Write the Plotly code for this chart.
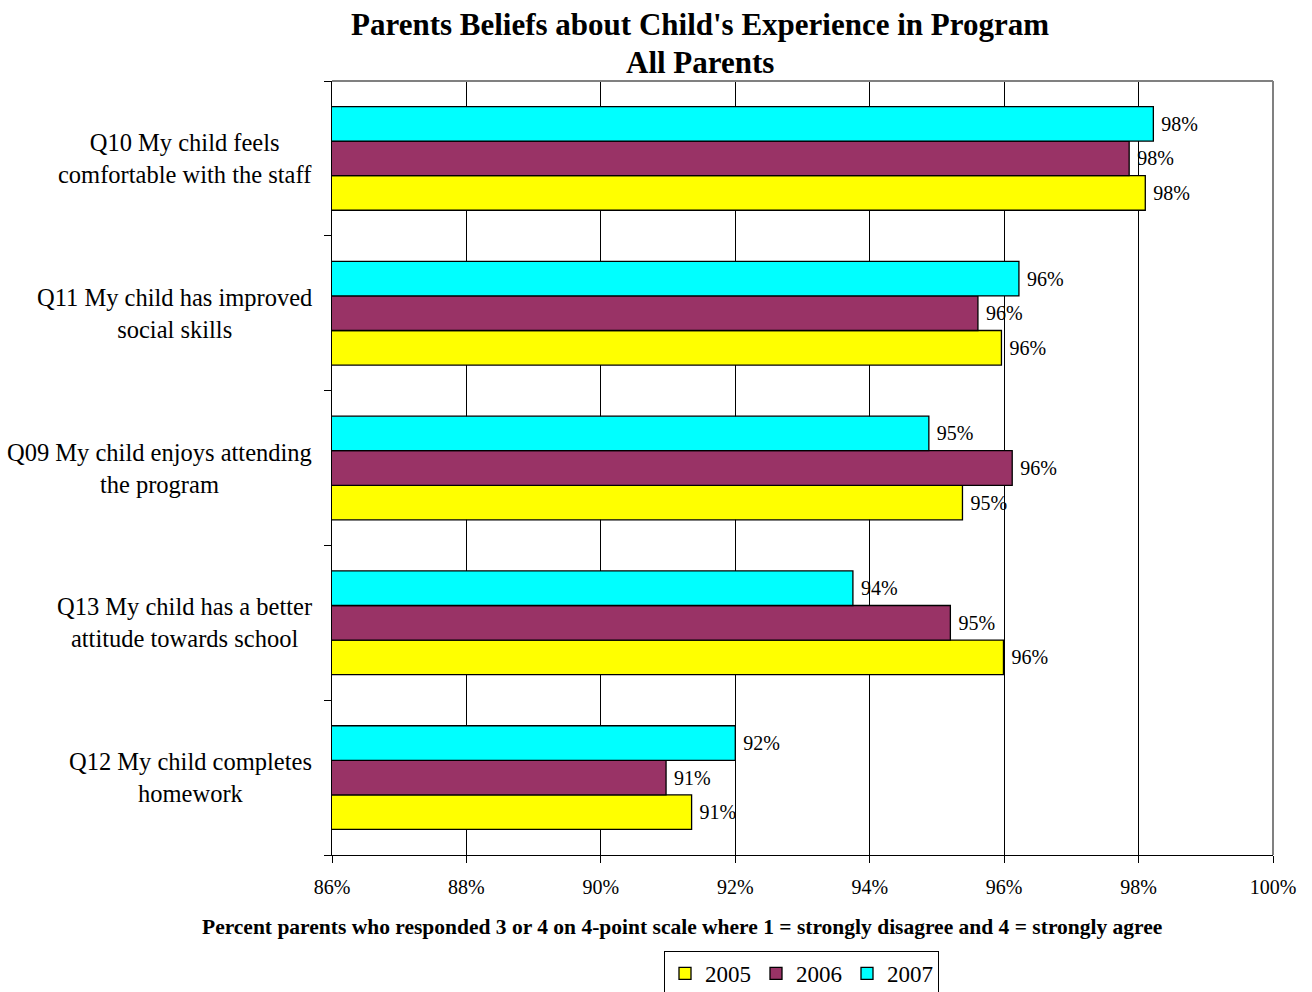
import plotly.graph_objects as go

# Survey items, listed bottom-to-top as they stack on the category axis
questions = ["Q12", "Q13", "Q09", "Q11", "Q10"]
question_text = [
    "Q12 My child completes<br>homework",
    "Q13 My child has a better<br>attitude towards school",
    "Q09 My child enjoys attending<br>the program",
    "Q11 My child has improved<br>social skills",
    "Q10 My child feels<br>comfortable with the staff",
]

years = ["2005", "2006", "2007"]
pct_2005 = [91.35, 95.99, 95.38, 95.96, 98.10]
pct_2006 = [90.97, 95.20, 96.12, 95.61, 97.86]
pct_2007 = [92.00, 93.75, 94.88, 96.22, 98.22]
series = [pct_2005, pct_2006, pct_2007]
colors = ["#FFFF00", "#993366", "#00FFFF"]

x_ticks = [86, 88, 90, 92, 94, 96, 98, 100]

SERIF = "Liberation Serif"

# Plot-area geometry in pixels, used to place the free text
W, H = 1312, 992
L, R, T, B = 332, 39, 81, 137
PW, PH = W - L - R, H - T - B


def px_x(px):
    return (px - L) / PW


def px_y(py):
    return (H - B - py) / PH


fig = go.Figure()
for year, vals, col in zip(years, series, colors):
    fig.add_trace(go.Bar(
        y=questions, x=vals, name=year, orientation="h",
        marker=dict(color=col, line=dict(color="#000000", width=1.3)),
        text=[f"\u00a0{v:.0f}%" for v in vals],
        textposition="outside", cliponaxis=False,
        textfont=dict(family=SERIF, size=20, color="#000000"),
    ))

annotations = []
# Category labels: two centred lines per question, left of the axis
for q, txt in zip(questions, question_text):
    annotations.append(dict(
        x=0, xref="paper", xshift=-18, xanchor="right",
        y=q, yref="y", yanchor="middle",
        text=txt, showarrow=False, align="center",
        font=dict(family=SERIF, size=24.5, color="#000000"),
    ))

# Two-line chart title
annotations.append(dict(
    x=px_x(700), xref="paper", y=px_y(24), yref="paper",
    xanchor="center", yanchor="middle", showarrow=False,
    text="<b>Parents Beliefs about Child's Experience in Program</b>",
    font=dict(family=SERIF, size=31, color="#000000"),
))
annotations.append(dict(
    x=px_x(700), xref="paper", y=px_y(63), yref="paper",
    xanchor="center", yanchor="middle", showarrow=False,
    text="<b>All Parents</b>",
    font=dict(family=SERIF, size=31, color="#000000"),
))
# Value-axis caption
annotations.append(dict(
    x=px_x(682), xref="paper", y=px_y(927), yref="paper",
    xanchor="center", yanchor="middle", showarrow=False,
    text="<b>Percent parents who responded 3 or 4 on 4-point scale where 1 = strongly disagree and 4 = strongly agree</b>",
    font=dict(family=SERIF, size=21.5, color="#000000"),
))

fig.update_layout(
    width=W, height=H,
    margin=dict(l=L, r=R, t=T, b=B),
    font=dict(family=SERIF, color="#000000"),
    paper_bgcolor="#FFFFFF", plot_bgcolor="#FFFFFF",
    barmode="group", bargap=0.33, bargroupgap=0,
    showlegend=True,
    legend=dict(
        orientation="h", traceorder="normal",
        xref="container", yref="container",
        x=664 / W, xanchor="left", y=1 - 951 / H, yanchor="top",
        bordercolor="#000000", borderwidth=1, bgcolor="#FFFFFF",
        font=dict(family=SERIF, size=23, color="#000000"),
        itemwidth=30,
    ),
    annotations=annotations,
    xaxis=dict(
        range=[86, 100], tickvals=x_ticks,
        ticktext=[f"{t}%" for t in x_ticks],
        showgrid=True, gridcolor="#000000", gridwidth=1,
        showline=True, linecolor="#000000", linewidth=1,
        ticks="outside", ticklen=7, tickcolor="#000000",
        ticklabelstandoff=7,
        tickfont=dict(family=SERIF, size=20, color="#000000"),
        zeroline=False, fixedrange=True,
    ),
    yaxis=dict(
        type="category", categoryorder="array", categoryarray=questions,
        showticklabels=False, tickson="boundaries",
        ticks="outside", ticklen=7, tickcolor="#000000",
        showline=True, linecolor="#000000", linewidth=1,
        showgrid=False, fixedrange=True,
    ),
    shapes=[
        dict(type="line", xref="paper", yref="paper", x0=0, x1=1, y0=1, y1=1,
             line=dict(color="#808080", width=2), layer="above"),
        dict(type="line", xref="paper", yref="paper", x0=1, x1=1, y0=0, y1=1,
             line=dict(color="#808080", width=2), layer="above"),
    ],
)

fig.write_html("out.html")
